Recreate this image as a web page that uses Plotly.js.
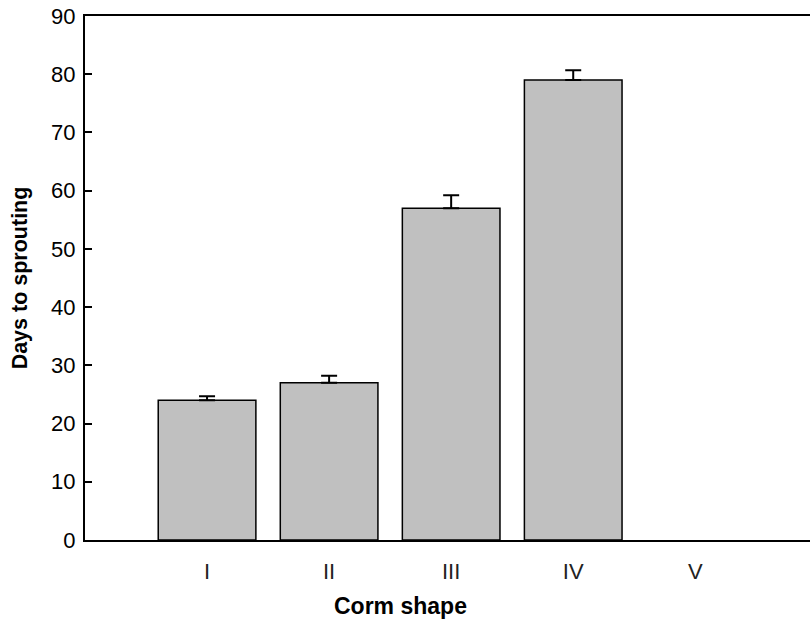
<!DOCTYPE html>
<html>
<head>
<meta charset="utf-8">
<script src="https://cdn.plot.ly/plotly-3.0.1.min.js"></script>
<style>html,body{margin:0;padding:0;background:#fff;}#chart{width:810px;height:620px;}</style>
</head>
<body>
<div id="chart"></div>
<script>
var categories = ["I", "II", "III", "IV", "V"];
var daysToSprouting = [24, 27, 57, 79, null];
var errorUpper = [0.7, 1.2, 2.2, 1.7, null];
var errorLower = [0, 0, 0, 0, null];
var yTickVals = [0, 10, 20, 30, 40, 50, 60, 70, 80, 90];

var trace = {
  type: "bar",
  x: categories,
  y: daysToSprouting,
  width: 0.8,
  marker: {color: "#c0c0c0", line: {color: "#000", width: 1.5}},
  error_y: {type: "data", symmetric: false, array: errorUpper, arrayminus: errorLower,
            color: "#000", thickness: 2, width: 8},
  hoverinfo: "none"
};

var layout = {
  width: 810, height: 620,
  margin: {l: 85, r: 0, t: 16, b: 80},
  paper_bgcolor: "#fff", plot_bgcolor: "#fff",
  showlegend: false,
  font: {family: "Liberation Sans, Arial, sans-serif", color: "#000"},
  xaxis: {
    type: "category",
    range: [-1, 4.94],
    showline: true, linecolor: "#000", linewidth: 2, mirror: true,
    showgrid: false, zeroline: false, ticks: "",
    ticklabelstandoff: 11,
    tickfont: {size: 22, color: "#222"}
  },
  yaxis: {
    range: [0, 90],
    tickvals: yTickVals,
    showline: true, linecolor: "#000", linewidth: 2,
    showgrid: false, zeroline: false,
    ticks: "inside", ticklen: 7, tickwidth: 2, tickcolor: "#000",
    ticklabelstandoff: 3,
    tickfont: {size: 22},
    title: {text: "Days to sprouting", font: {size: 21.5, family: "Liberation Sans, Arial, sans-serif", weight: "bold"}, standoff: 18}
  },
  annotations: [{
    text: "Corm shape", showarrow: false,
    xref: "paper", yref: "paper", x: 0.4345, y: -0.126,
    xanchor: "center", yanchor: "middle",
    font: {size: 23, family: "Liberation Sans, Arial, sans-serif", weight: "bold", color: "#000"}
  }]
};

Plotly.newPlot("chart", [trace], layout, {displayModeBar: false, staticPlot: true});
</script>
</body>
</html>
